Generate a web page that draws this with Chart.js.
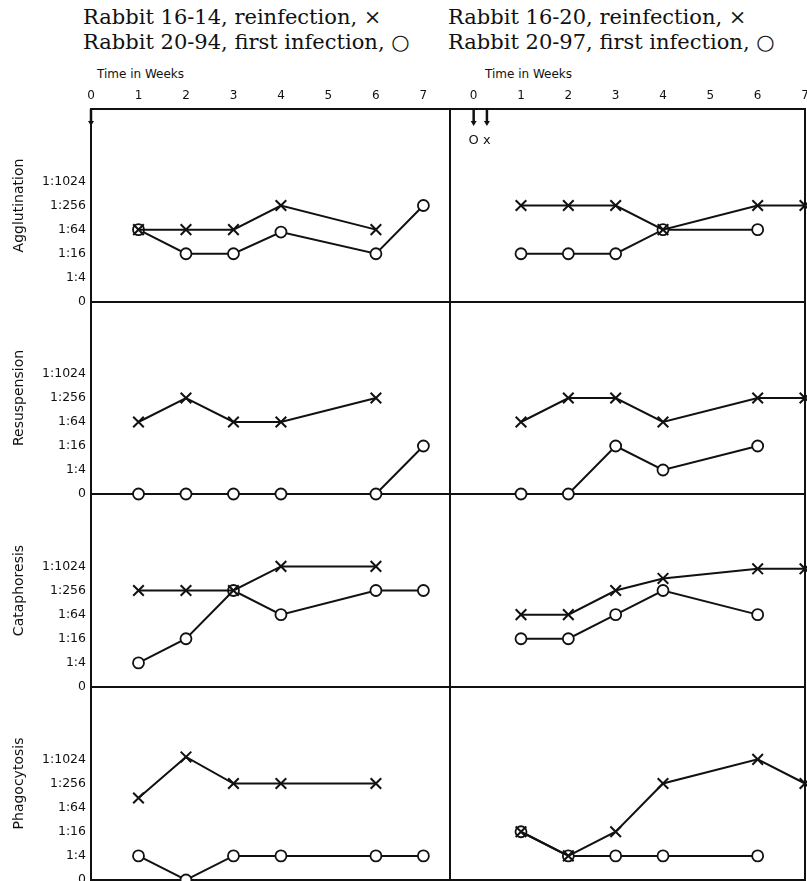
<!DOCTYPE html>
<html>
<head>
<meta charset="utf-8">
<script src="https://cdn.jsdelivr.net/npm/chart.js@4.4.0/dist/chart.umd.min.js"></script>
<style>
  body { margin: 0; background: #fff; }
  #page { position: relative; width: 807px; height: 881px; overflow: hidden; }
  canvas { position: absolute; }
  .head { position: absolute; font-family: "DejaVu Serif", serif; font-size: 21px; line-height: 25px; color: #111; white-space: nowrap; }
  .time { position: absolute; font-family: "DejaVu Sans", sans-serif; font-size: 12px; color: #111; white-space: nowrap; }
</style>
</head>
<body>
<div id="page">
  <div class="head" style="left:83px; top:5px">Rabbit 16-14, reinfection, ×<br>Rabbit 20-94, first infection, ○</div>
  <div class="head" style="left:448px; top:5px">Rabbit 16-20, reinfection, ×<br>Rabbit 20-97, first infection, ○</div>
  <div class="time" style="left:97px; top:67px">Time in Weeks</div>
  <div class="time" style="left:485px; top:67px">Time in Weeks</div>
</div>
<script>
// titres are plotted on a step scale: 0, 1:4, 1:16 ... 1:1024 -> 0..5
const weeks = [1, 2, 3, 4, 6, 7];
const weekTicks = [0, 1, 2, 3, 4, 5, 6, 7];
const titreTicks = ["0", "1:4", "1:16", "1:64", "1:256", "1:1024"];
const tests = ["Agglutination", "Resuspension", "Cataphoresis", "Phagocytosis"];

// Rabbit 16-14 reinfection (x) / Rabbit 20-94 first infection (o)
const aggl1614 = [3, 3, 3, 4, 3, null];
const aggl2094 = [3, 2, 2, 2.9, 2, 4];
const resu1614 = [3, 4, 3, 3, 4, null];
const resu2094 = [0, 0, 0, 0, 0, 2];
const cata1614 = [4, 4, 4, 5, 5, null];
const cata2094 = [1, 2, 4, 3, 4, 4];
const phag1614 = [3.4, 5.1, 4, 4, 4, null];
const phag2094 = [1, 0, 1, 1, 1, 1];

// Rabbit 16-20 reinfection (x) / Rabbit 20-97 first infection (o)
const aggl1620 = [4, 4, 4, 3, 4, 4];
const aggl2097 = [2, 2, 2, 3, 3, null];
const resu1620 = [3, 4, 4, 3, 4, 4];
const resu2097 = [0, 0, 2, 1, 2, null];
const cata1620 = [3, 3, 4, 4.5, 4.9, 4.9];
const cata2097 = [2, 2, 3, 4, 3, null];
const phag1620 = [2, 1, 2, 4, 5, 4];
const phag2097 = [2, 1, 1, 1, 1, null];

// infection arrows at the top of each column
const arrowWeeksLeft = [0];
const arrowWeeksRight = [0, 0.28];
const arrowMarksRight = ["O", "x"];

const ink = "#111";
const rowTop = [109, 302, 494, 687];
const rowBottom = [302, 494, 687, 880];

function points(vals) {
    return weeks.map((w, i) => ({ x: w, y: vals[i] })).filter(p => p.y !== null);
}

// keep the plot area exactly where the layout puts it
function fixSize(w, h) {
    return s => {
        if (w !== null) s.width = w;
        if (h !== null) s.height = h;
        s.paddingTop = 0;
        s.paddingBottom = 0;
        s.paddingLeft = 0;
        s.paddingRight = 0;
    };
}

const arrowPlugin = {
    id: "infection",
    afterDraw(chart, args, opts) {
        if (!opts.weeks) return;
        const ctx = chart.ctx;
        const x = chart.scales.x, y = chart.scales.y;
        const y0 = y.getPixelForValue(8), y1 = y.getPixelForValue(7.3);
        ctx.save();
        ctx.strokeStyle = ink;
        ctx.fillStyle = ink;
        ctx.lineWidth = 2.5;
        opts.weeks.forEach((w, i) => {
            const px = x.getPixelForValue(w);
            ctx.beginPath();
            ctx.moveTo(px, y0);
            ctx.lineTo(px, y1 - 4);
            ctx.stroke();
            ctx.beginPath();
            ctx.moveTo(px - 3, y1 - 5);
            ctx.lineTo(px + 3, y1 - 5);
            ctx.lineTo(px, y1);
            ctx.closePath();
            ctx.fill();
            if (opts.marks && opts.marks[i]) {
                ctx.font = "13px 'DejaVu Sans'";
                ctx.textAlign = "center";
                ctx.textBaseline = "middle";
                ctx.fillText(opts.marks[i], px, y.getPixelForValue(6.7));
            }
        });
        ctx.restore();
    }
};

function addPanel(col, row, reinf, first) {
    const isLeft = col === 0, isTop = row === 0;
    const canvasTop = isTop ? 70 : rowTop[row] - 8;
    const w = isLeft ? 452 : 367;
    const h = rowBottom[row] + 8 - canvasTop;
    const cv = document.createElement("canvas");
    cv.width = w;
    cv.height = h;
    cv.style.left = (isLeft ? 0 : 440) + "px";
    cv.style.top = canvasTop + "px";
    document.getElementById("page").appendChild(cv);

    const xMin = isLeft ? 0 : -0.5, xMax = isLeft ? 7.56 : 7;
    const border = { display: true, color: ink, width: 2 };
    const noGrid = { display: false, drawTicks: false };

    const scales = {
        x: {
            type: "linear", position: "bottom", min: xMin, max: xMax,
            ticks: { display: false }, grid: noGrid, border: border,
            afterFit: fixSize(null, 0)
        },
        y: {
            type: "linear", position: "left", min: 0, max: 8,
            afterBuildTicks: s => { s.ticks = titreTicks.map((t, i) => ({ value: i })); },
            ticks: {
                display: isLeft, color: ink, padding: 5,
                font: { family: "DejaVu Sans", size: 12.5 },
                callback: v => titreTicks[v]
            },
            grid: noGrid, border: border,
            title: {
                display: isLeft, text: tests[row], color: ink,
                font: { family: "DejaVu Sans", size: 14 },
                padding: { top: 11, bottom: 0 }
            },
            afterFit: fixSize(isLeft ? 91 : 0, null)
        }
    };
    if (isTop) {
        scales.x2 = {
            type: "linear", position: "top", min: xMin, max: xMax,
            afterBuildTicks: s => { s.ticks = weekTicks.map(v => ({ value: v })); },
            ticks: {
                color: ink, padding: 6, maxRotation: 0, autoSkip: false,
                font: { family: "DejaVu Sans", size: 12 }
            },
            grid: noGrid, border: border,
            afterFit: fixSize(null, 39)
        };
    }
    if (!isLeft) {
        scales.yr = {
            type: "linear", position: "right", min: 0, max: 8,
            ticks: { display: false }, grid: noGrid, border: border,
            afterFit: fixSize(0, null)
        };
    }

    new Chart(cv, {
        type: "line",
        data: {
            datasets: [
                {
                    data: points(reinf),
                    borderColor: ink, borderWidth: 2,
                    pointStyle: "crossRot", pointRadius: 7.5, pointBorderWidth: 2,
                    pointBorderColor: ink, tension: 0, clip: false
                },
                {
                    data: points(first),
                    borderColor: ink, borderWidth: 2,
                    pointStyle: "circle", pointRadius: 5.5, pointBorderWidth: 1.8,
                    pointBorderColor: ink, pointBackgroundColor: "#fff", tension: 0, clip: false
                }
            ]
        },
        options: {
            responsive: false,
            devicePixelRatio: 1,
            animation: false,
            layout: {
                autoPadding: false,
                padding: { top: isTop ? 0 : 8, bottom: 8, left: isLeft ? 0 : 10, right: 2 }
            },
            scales: scales,
            plugins: {
                legend: { display: false },
                tooltip: { enabled: false },
                infection: isTop ? {
                    weeks: isLeft ? arrowWeeksLeft : arrowWeeksRight,
                    marks: isLeft ? [] : arrowMarksRight
                } : {}
            }
        },
        plugins: [arrowPlugin]
    });
}

addPanel(0, 0, aggl1614, aggl2094);
addPanel(0, 1, resu1614, resu2094);
addPanel(0, 2, cata1614, cata2094);
addPanel(0, 3, phag1614, phag2094);
addPanel(1, 0, aggl1620, aggl2097);
addPanel(1, 1, resu1620, resu2097);
addPanel(1, 2, cata1620, cata2097);
addPanel(1, 3, phag1620, phag2097);
</script>
</body>
</html>
